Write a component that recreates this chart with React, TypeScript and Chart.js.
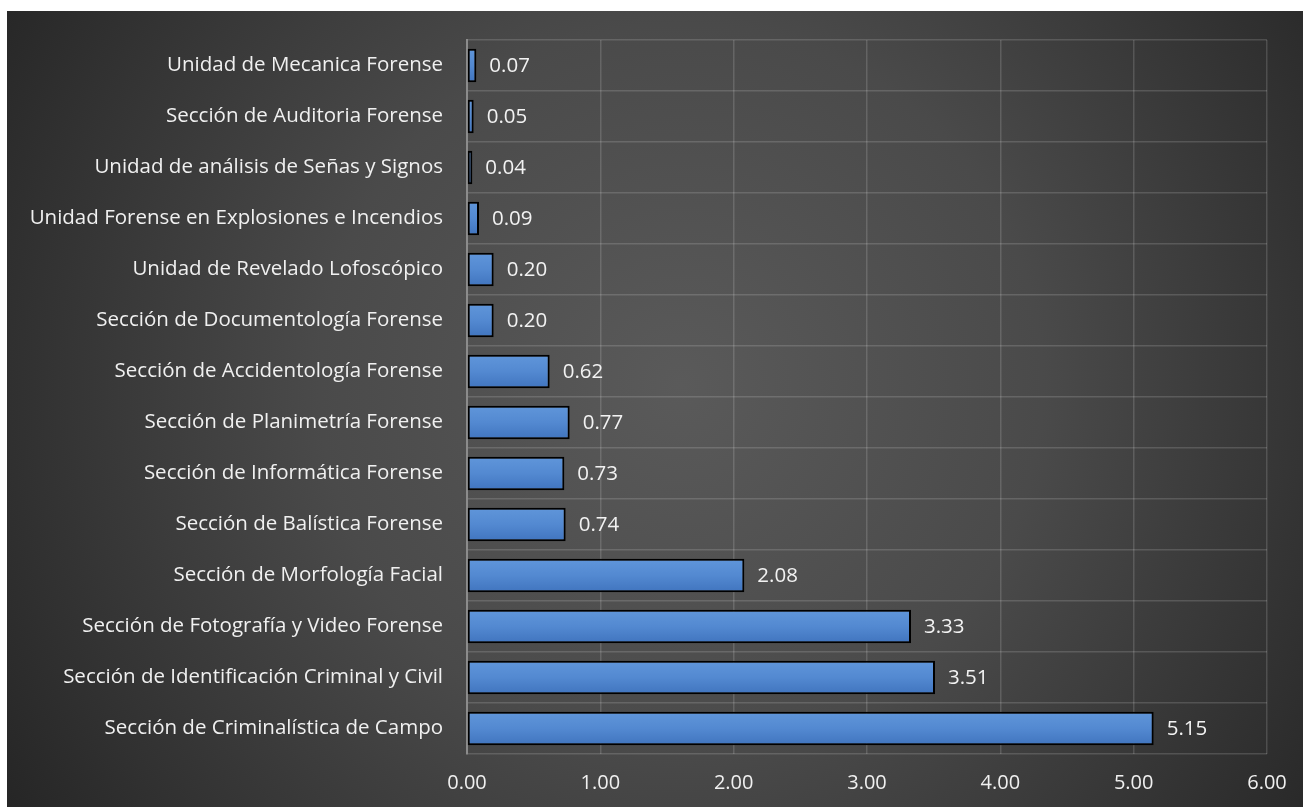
import React, { useEffect, useRef } from "react";
import { Chart, registerables } from "chart.js";

Chart.register(...registerables);

const categories: string[] = [
  "Unidad de Mecanica Forense",
  "Sección de Auditoria Forense",
  "Unidad de análisis de Señas y Signos",
  "Unidad Forense en Explosiones e Incendios",
  "Unidad de Revelado Lofoscópico",
  "Sección de Documentología Forense",
  "Sección de Accidentología Forense",
  "Sección de Planimetría Forense",
  "Sección de Informática Forense",
  "Sección de Balística Forense",
  "Sección de Morfología Facial",
  "Sección de Fotografía y Video Forense",
  "Sección de Identificación Criminal y Civil",
  "Sección de Criminalística de Campo",
];

const values: number[] = [0.07, 0.05, 0.04, 0.09, 0.2, 0.2, 0.62, 0.77, 0.73, 0.74, 2.08, 3.33, 3.51, 5.15];

const xTickMin = 0;
const xTickMax = 6;
const xTickStep = 1;

const FONT = "'Open Sans', 'Noto Sans', sans-serif";

const bgPlugin = {
  id: "bgPlugin",
  beforeDraw(chart: any) {
    const { ctx, width, height } = chart;
    ctx.save();
    const g = ctx.createRadialGradient(width * 0.52, height * 0.47, 0, width * 0.52, height * 0.47, Math.max(width, height) * 0.62);
    g.addColorStop(0, "#5a5a5a");
    g.addColorStop(0.45, "#4a4a4a");
    g.addColorStop(1, "#252525");
    ctx.fillStyle = g;
    ctx.fillRect(0, 0, width, height);
    ctx.restore();
  },
};

const labelPlugin = {
  id: "valueLabels",
  afterDatasetsDraw(chart: any) {
    const { ctx } = chart;
    const meta = chart.getDatasetMeta(0);
    ctx.save();
    ctx.font = `20.5px ${FONT}`;
    ctx.fillStyle = "#f2f2f2";
    ctx.textAlign = "left";
    ctx.textBaseline = "middle";
    meta.data.forEach((el: any, i: number) => {
      const v = chart.data.datasets[0].data[i] as number;
      ctx.fillText(v.toFixed(2), el.x + 13, el.y + 1);
    });
    ctx.restore();
  },
};

export default function App() {
  const ref = useRef<HTMLCanvasElement | null>(null);

  useEffect(() => {
    if (!ref.current) return;
    const chart = new Chart(ref.current, {
      type: "bar",
      data: {
        labels: categories,
        datasets: [
          {
            data: values,
            backgroundColor: (c: any) => {
              const ch = c.chart;
              const ys = ch.scales && ch.scales.y;
              if (!ch.chartArea || !ys || c.dataIndex === undefined) return "#4a7fc8";
              const yc = ys.getPixelForValue(c.dataIndex);
              const g = ch.ctx.createLinearGradient(0, yc - 17, 0, yc + 17);
              g.addColorStop(0, "#6096da");
              g.addColorStop(0.5, "#5389d1");
              g.addColorStop(1, "#4074be");
              return g;
            },
            borderColor: "#000000",
            borderWidth: 2,
            borderSkipped: false,
            barPercentage: 0.66,
            categoryPercentage: 1,
          },
        ],
      },
      options: {
        indexAxis: "y",
        animation: false,
        responsive: false,
        maintainAspectRatio: false,
        layout: { padding: { left: 0, top: 29, right: 36, bottom: 0 } },
        plugins: {
          legend: { display: false },
          tooltip: { enabled: false },
        },
        scales: {
          x: {
            min: xTickMin,
            max: xTickMax,
            ticks: {
              stepSize: xTickStep,
              color: "#f0f0f0",
              font: { family: FONT, size: 20 },
              padding: 17,
              callback: (v: any) => Number(v).toFixed(2),
            },
            grid: { color: "rgba(255,255,255,0.15)", lineWidth: 1.5, drawTicks: false },
            border: { display: false },
            afterFit: (s: any) => {
              s.height = 53;
              s.paddingLeft = 0;
              s.paddingRight = 0;
            },
          },
          y: {
            ticks: {
              color: "#f0f0f0",
              font: { family: FONT, size: 20.5 },
              padding: 24,
              autoSkip: false,
            },
            grid: { color: "rgba(255,255,255,0.15)", lineWidth: 1.5, drawTicks: false, offset: true },
            border: { display: true, color: "#8c8c8c", width: 2 },
            afterFit: (s: any) => {
              s.width = 460;
              s.paddingTop = 0;
              s.paddingBottom = 0;
            },
          },
        },
      },
      plugins: [bgPlugin, labelPlugin],
    });
    return () => chart.destroy();
  }, []);

  return (
    <div style={{ position: "fixed", left: 7, top: 11, width: 1296, height: 796 }}>
      <canvas ref={ref} width={1296} height={796} style={{ display: "block", width: 1296, height: 796 }} />
    </div>
  );
}
